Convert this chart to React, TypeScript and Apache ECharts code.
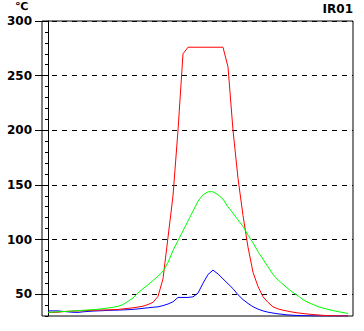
import React, { useEffect, useRef } from "react";
import * as echarts from "echarts";

// sample positions (seconds)
const sampleTimes = [
  0, 5, 10, 15, 20, 25, 30, 35, 40, 45,
  50, 55, 60, 65, 70, 75, 80, 85, 90, 95,
  100, 105, 110, 115, 120, 125, 130, 135, 140, 145,
  150, 155, 160, 165, 170, 175, 180, 185, 190, 195,
  200, 205, 210, 215, 220, 225, 230, 235, 240, 245,
  250, 255, 260, 265, 270, 275, 280, 285, 290, 295,
  300,
];

const redValues = [
  33.3, 33.3, 33.5, 34, 34.3, 34.5, 34.7, 34.8, 35, 35.2,
  35.4, 35.5, 35.6, 35.8, 36, 36.5, 37, 37.5, 38.2, 39,
  40.5, 42.5, 48, 64, 102, 140, 200, 270, 276, 276,
  276, 276, 276, 276, 276, 276, 258, 200, 156, 122,
  93, 70, 57, 47.6, 42.5, 38.4, 36.5, 35.3, 34.4, 33.5,
  32.8, 32.3, 31.8, 31.3, 31, 30.6, 30.4, 30.2, 30.1, 30,
  30,
];

const greenValues = [
  33.3, 33.6, 33.8, 34.1, 34.3, 34.6, 34.9, 35.2, 35.5, 35.8,
  36.2, 36.7, 37.3, 38, 38.8, 40.5, 43.5, 46.5, 51, 55,
  58.5, 62.5, 66.5, 71, 79, 90, 99, 108, 117, 126,
  135, 141, 143.7, 143.7, 141, 137, 130, 124, 118, 112,
  104, 97, 89, 82, 75, 68, 63, 59, 55, 51.5,
  48.5, 45, 42.5, 40.5, 38.6, 37.3, 36, 35, 34, 33.2,
  32.3,
];

const blueValues = [
  34.7, 34.7, 34.7, 34.2, 33.8, 33.4, 33.3, 33.8, 34.2, 34.5,
  34.7, 34.9, 35.1, 35.3, 35.4, 35.6, 35.8, 36.1, 36.5, 37,
  37.5, 38, 38.4, 39.5, 41, 43, 47, 47, 47, 47.5,
  51, 60, 68, 72, 68.5, 64, 59.5, 55, 49.5, 45,
  41.5, 38.5, 36.3, 34.7, 33.5, 32.7, 32, 31.5, 31, 30.7,
  30.5, 30.3, 30.2, 30, 30, 30, 30, 30, 30, 30,
  30,
];

const yMajorTicks = [50, 100, 150, 200, 250, 300];
const unitLabel = "\u2103";
const titleLabel = "IR01";

const pairs = (vals: number[]) => vals.map((v, i) => [sampleTimes[i], v]);

export default function App() {
  const ref = useRef<HTMLDivElement>(null);
  useEffect(() => {
    if (!ref.current) return;
    const chart = echarts.init(ref.current, null, { renderer: "svg" });
    const font = "DejaVu Sans";
    chart.setOption({
      animation: false,
      backgroundColor: "#ffffff",
      grid: {
        left: 42,
        right: 11,
        top: 21,
        bottom: 15,
        show: true,
        borderColor: "#000",
        borderWidth: 1,
        backgroundColor: "transparent",
      },
      graphic: [
        {
          type: "text",
          right: 11,
          top: 3,
          style: { text: titleLabel, font: `bold 12px ${font}`, fill: "#000" },
        },
        {
          type: "text",
          left: 15,
          top: 1,
          style: { text: unitLabel, font: `bold 11px ${font}`, fill: "#000" },
        },
      ],
      xAxis: {
        type: "value",
        min: -6,
        max: 305,
        show: false,
      },
      yAxis: [
        {
          type: "value",
          min: 30,
          max: 300,
          interval: 10,
          position: "left",
          axisLine: { show: true, lineStyle: { color: "#000", width: 1 } },
          axisTick: { show: true, length: 3, lineStyle: { color: "#000" } },
          axisLabel: { show: false },
          splitLine: { show: false },
        },
        {
          type: "value",
          min: 30,
          max: 300,
          interval: 10,
          position: "left",
          axisLine: { show: false },
          axisTick: {
            show: true,
            length: 7,
            customValues: yMajorTicks,
            lineStyle: { color: "#000" },
          },
          axisLabel: {
            show: true,
            customValues: yMajorTicks,
            margin: 10,
            color: "#000",
            fontFamily: font,
            fontWeight: "bold",
            fontSize: 12,
          },
          splitLine: {
            show: true,
            lineStyle: { color: "#000", type: [5, 5], width: 1 },
          },
        },
      ],
      series: [
        {
          type: "line",
          data: pairs(blueValues),
          showSymbol: false,
          lineStyle: { color: "#0000ff", width: 1 },
          itemStyle: { color: "#0000ff" },
        },
        {
          type: "line",
          data: pairs(redValues),
          showSymbol: false,
          lineStyle: { color: "#ff0000", width: 1 },
          itemStyle: { color: "#ff0000" },
        },
        {
          type: "line",
          data: pairs(greenValues),
          showSymbol: false,
          lineStyle: { color: "#00ff00", width: 1 },
          itemStyle: { color: "#00ff00" },
        },
      ],
    });
    return () => chart.dispose();
  }, []);
  return (
    <div
      ref={ref}
      style={{ position: "fixed", left: 0, top: 0, width: 364, height: 331 }}
    />
  );
}
